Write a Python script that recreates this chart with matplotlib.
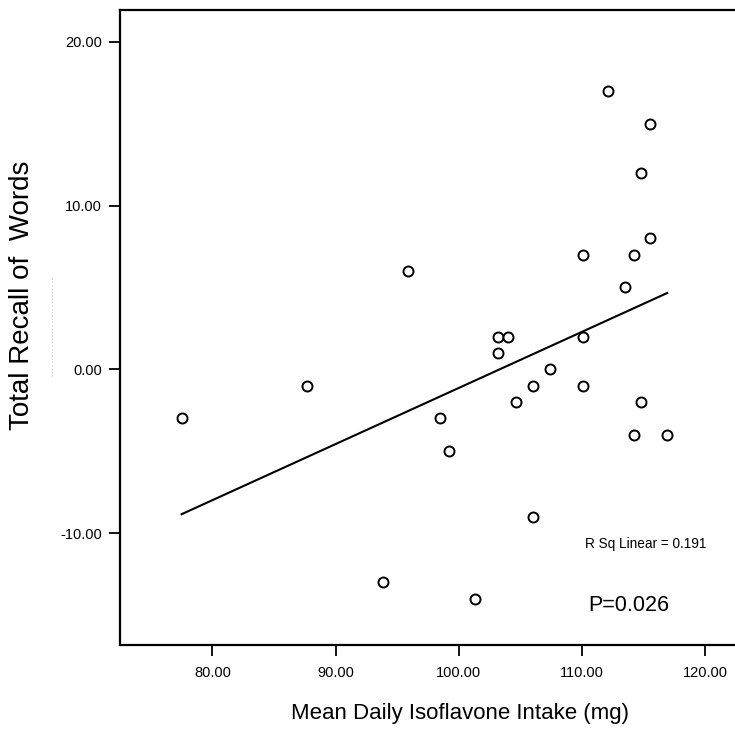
import numpy as np
import matplotlib
matplotlib.use("Agg")
import matplotlib.pyplot as plt
from matplotlib.lines import Line2D

plt.rcParams['font.family'] = ['Liberation Sans', 'DejaVu Sans']

# ---------- data: mean daily isoflavone intake vs. total word recall ----------
intake = [77.5, 87.7, 95.9, 93.8, 98.5, 99.2, 101.3, 103.2, 104.0, 103.2,
          104.6, 106.0, 107.4, 106.0, 110.1, 110.1, 110.1, 112.1, 115.5, 114.8,
          114.2, 115.5, 113.5, 114.8, 114.2, 116.9]
recall = [-3, -1, 6, -13, -3, -5, -14, 2, 2, 1,
          -2, -1, 0, -9, 7, 2, -1, 17, 15, 12,
          7, 8, 5, -2, -4, -4]

r_sq = 0.191
p_value = 0.026

xticks = [80, 90, 100, 110, 120]
yticks = [-10, 0, 10, 20]

x = np.array(intake)
y = np.array(recall)

# linear fit
slope, icpt = np.polyfit(x, y, 1)

fig = plt.figure(figsize=(7.35, 7.31), dpi=100)
ax = fig.add_axes([120/735, 86/731, 615/735, 635/731])

ax.plot(x, y, linestyle='none', marker='o', markersize=7.2,
        markerfacecolor='white', markeredgecolor='black', markeredgewidth=1.4,
        zorder=3)

xs = np.array([x.min(), x.max()])
ax.plot(xs, slope * xs + icpt, color='black', linewidth=1.5, zorder=2)

ax.set_xlim(72.5, 122.4)
ax.set_ylim(-16.84, 21.95)
ax.set_xticks(xticks)
ax.set_yticks(yticks)
ax.set_xticklabels([f'{v:.2f}' for v in xticks])
ax.set_yticklabels([f'{v:.2f}' for v in yticks])
ax.tick_params(direction='out', length=8, width=1.3, labelsize=10.5,
               color='black', pad=5)
ax.tick_params(axis='x', pad=7)

for side in ['left', 'bottom', 'top']:
    ax.spines[side].set_linewidth(1.6)
ax.spines['right'].set_visible(False)

ax.text(110.2, -10.7, f'R Sq Linear = {r_sq:.3f}', fontsize=9.8, va='center', ha='left')
ax.text(110.5, -14.4, f'P={p_value:.3f}', fontsize=15.5, va='center', ha='left')

fig.text(460/735, 1 - 713/731, 'Mean Daily Isoflavone Intake (mg)',
         fontsize=16, ha='center', va='center')
fig.text(22/735, 1 - 295/731, 'Total Recall of  Words',
         fontsize=20, rotation=90, ha='center', va='center')

# faint dotted guide beside the y label
fig.add_artist(Line2D([51.7/735, 51.7/735], [1 - 278/731, 1 - 377/731],
                      color='0.8', linestyle=(0, (2, 2)), linewidth=0.6))

fig.savefig('out.png', dpi=100)
